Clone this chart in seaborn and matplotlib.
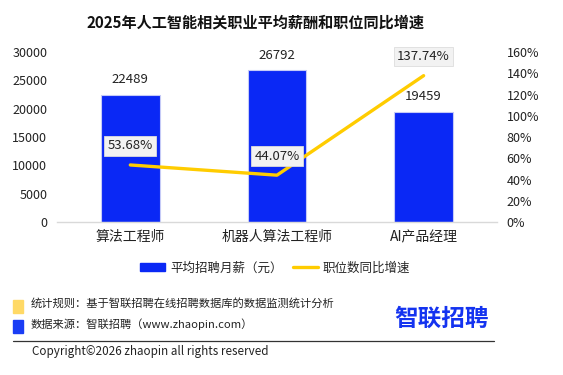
import matplotlib
matplotlib.use('Agg')
import matplotlib.pyplot as plt
import matplotlib.patches as mpatches
import matplotlib.lines as mlines
import numpy as np
import pandas as pd
import seaborn as sns

# Chart data
categories = ['算法工程师', '机器人算法工程师', 'AI产品经理']
avg_salary = [22489, 26792, 19459]
growth_rate = [53.68, 44.07, 137.74]
salary_ticks = [0, 5000, 10000, 15000, 20000, 25000, 30000]
growth_ticks = [0, 20, 40, 60, 80, 100, 120, 140, 160]

BAR_BLUE = '#0A28F5'
LINE_GOLD = '#FFCC00'

sns.set_theme(style='white')
plt.rcParams['font.family'] = ['Noto Sans CJK SC', 'DejaVu Sans']

df = pd.DataFrame({'category': categories, 'salary': avg_salary, 'growth': growth_rate})

fig = plt.figure(figsize=(5.63, 3.75), dpi=100)
ax = fig.add_axes([0.1012, 0.408, 0.7815, 0.4533])

# Bars: average monthly salary
sns.barplot(data=df, x='category', y='salary', color=BAR_BLUE, width=0.4,
            edgecolor='#C5CAF7', linewidth=0.8, saturation=1, ax=ax)
ax.set_xlim(-0.5, len(categories) - 0.5)
ax.set_ylim(0, 30000)
ax.set_yticks(salary_ticks)
ax.set_xlabel('')
ax.set_ylabel('')
ax.tick_params(axis='y', labelsize=9, length=0, pad=7, colors='#222222')
ax.tick_params(axis='x', labelsize=10, length=0, pad=6, colors='#222222')
for side in ['top', 'right', 'left']:
    ax.spines[side].set_visible(False)
ax.spines['bottom'].set_color('#D9D9D9')
ax.spines['bottom'].set_linewidth(1)

for i, v in enumerate(avg_salary):
    ax.annotate(f'{v}', xy=(i, v), xytext=(0, 15), textcoords='offset pixels',
                ha='center', va='center', fontsize=9.5, color='#222222')

# Line: year-over-year growth of job postings
ax2 = ax.twinx()
positions = np.arange(len(categories))
sns.lineplot(x=positions, y=growth_rate, color=LINE_GOLD, linewidth=2.4, ax=ax2)
ax2.set_ylim(0, 160)
ax2.set_yticks(growth_ticks)
ax2.set_yticklabels([f'{t}%' for t in growth_ticks])
ax2.tick_params(axis='y', labelsize=9, length=0, pad=7, colors='#222222')
for side in ['top', 'right', 'left', 'bottom']:
    ax2.spines[side].set_visible(False)

for i, v in enumerate(growth_rate):
    ax2.annotate(f'{v:.2f}%', xy=(positions[i], v), xytext=(0, 19), textcoords='offset pixels',
                 ha='center', va='center', fontsize=9.5, color='#222222',
                 bbox=dict(boxstyle='square,pad=0.25', facecolor='#F2F2F2', edgecolor='#DDDDDD', linewidth=0.6))

# Title
fig.text(0.453, 0.939, '2025年人工智能相关职业平均薪酬和职位同比增速', ha='center', va='center',
         fontsize=10.9, fontweight='bold', color='#111111')

# Legend
handles = [mpatches.Patch(color=BAR_BLUE, label='平均招聘月薪（元）'),
           mlines.Line2D([], [], color=LINE_GOLD, linewidth=2.4, label='职位数同比增速')]
fig.legend(handles=handles, loc='center', bbox_to_anchor=(0.489, 0.285), ncol=2, frameon=False,
           fontsize=9, handlelength=2.0, handleheight=0.6, columnspacing=0.8, handletextpad=0.4)

# Footer notes
fig.patches.append(mpatches.Rectangle((13 / 563, 1 - 313 / 375), 10 / 563, 13 / 375,
                                      transform=fig.transFigure, color='#FFD966'))
fig.patches.append(mpatches.Rectangle((13 / 563, 1 - 333 / 375), 10 / 563, 13 / 375,
                                      transform=fig.transFigure, color='#1A3DF5'))
fig.text(31 / 563, 1 - 303 / 375, '统计规则：基于智联招聘在线招聘数据库的数据监测统计分析',
         ha='left', va='center', fontsize=8.1, color='#222222')
fig.text(31 / 563, 1 - 324 / 375, '数据来源：智联招聘（www.zhaopin.com）',
         ha='left', va='center', fontsize=8.1, color='#222222')
fig.text(442 / 563, 1 - 319 / 375, '智联招聘', ha='center', va='center',
         fontsize=17, fontweight='bold', color='#1433F0')
fig.add_artist(mlines.Line2D([13 / 563, 494 / 563], [1 - 341 / 375, 1 - 341 / 375],
                             transform=fig.transFigure, color='#333333', linewidth=0.9))
fig.text(32 / 563, 1 - 351 / 375, 'Copyright©2026 zhaopin all rights reserved',
         ha='left', va='center', fontsize=8.4, color='#222222')

plt.savefig('out.png', dpi=100)
plt.close(fig)
